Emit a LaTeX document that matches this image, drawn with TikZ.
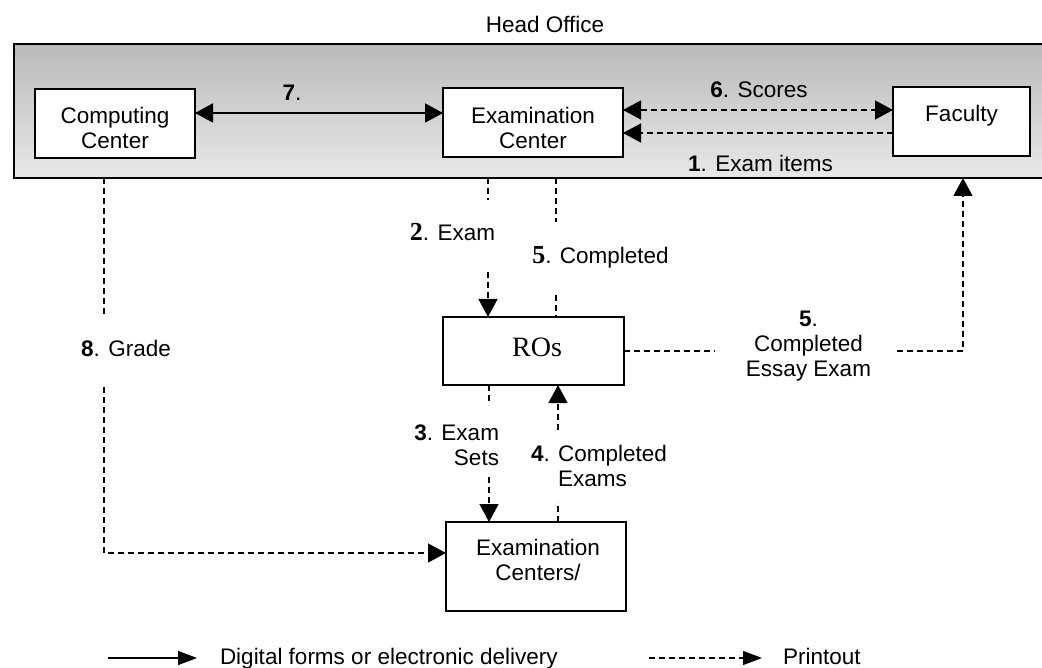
\documentclass[tikz,border=0pt]{standalone}
\usepackage{fontspec}
\setmainfont{Liberation Sans}
\newfontfamily\serifnum{Liberation Serif}
\usetikzlibrary{arrows.meta}

% bold serif step numbers
\newcommand{\snum}[1]{{\fontsize{26}{25}\selectfont\serifnum\bfseries #1}}

\begin{document}
\begin{tikzpicture}[x=1pt,y=-1pt,
  every node/.style={font=\fontsize{22.5}{25}\selectfont, inner sep=0pt, outer sep=0pt},
  box/.style={draw, line width=1.4pt, fill=white, rectangle},
  txt/.style={align=center},
  tip/.style={-{Triangle[length=18pt,width=19pt]}},
  both/.style={{Triangle[length=18pt,width=19pt]}-{Triangle[length=18pt,width=19pt]}},
  dline/.style={line width=1.3pt, dash pattern=on 6pt off 4pt},
  sline/.style={line width=2pt},
]
\clip (0,0) rectangle (1042,668);
\fill[white] (0,0) rectangle (1042,668);

% head office band
\node (hotitle) at (545,24.5) {Head Office};
\node[draw, line width=1.3pt, minimum width=1040pt, minimum height=134pt,
      top color=black!27, bottom color=black!9] (ho) at (534,111) {};

% boxes
\node[box, minimum width=160pt, minimum height=69pt] (cc)  at (115,123.5) {};
\node[box, minimum width=180pt, minimum height=69pt] (ec)  at (533,122.5) {};
\node[box, minimum width=137pt, minimum height=69pt] (fac) at (961.5,121.5) {};
\node[box, minimum width=181pt, minimum height=68pt] (ros) at (533.5,351) {};
\node[box, minimum width=180pt, minimum height=89pt] (xc)  at (536,566.5) {};

\node[txt] (cct)  at (115,128)   {Computing\\Center};
\node[txt] (ect)  at (533,127.5) {Examination\\Center};
\node      (fact) at (961.5,116) {Faculty};
\node      (rost) at (537,347.5) {\fontsize{28}{30}\selectfont\serifnum ROs};
\node[txt] (xct)  at (538,560)   {Examination\\Centers/};

% labels
\node (l7) at (292,92.7)  {\textbf{7}.};
\node (l6) at (759,90)    {\textbf{6}. Scores};
\node (l1) at (760.5,163.7) {\textbf{1}. Exam items};
\node (l2) at (452.5,232.5) {\snum{2}. Exam};
\node (l5a) at (600.5,257.5) {\snum{5}. Completed};
\node[txt] (l5b) at (808.5,346.5) {\textbf{5}.\\Completed\\Essay Exam};
\node (l8) at (126,348.7) {\textbf{8}. Grade};
\node[align=right] (l3) at (456.7,445) {\textbf{3}. Exam\\Sets};
\node[align=left] (l4) at (599,466.3) {\textbf{4}. Completed\\\phantom{\textbf{4}. }Exams};

% head office links
\coordinate (y7) at (0,113);
\coordinate (y6) at (0,110);
\coordinate (y1) at (0,133);
\draw[sline,both] (cc.east |- y7) -- (ec.west |- y7);
\draw[dline,both] (ec.east |- y6) -- (fac.west |- y6);
\draw[dline,tip]  (fac.west |- y1) -- (ec.east |- y1);

% 2. Exam
\coordinate (a1) at (488,200);
\coordinate (a2) at (488,272);
\draw[dline] (ho.south -| a1) -- (a1);
\draw[dline,tip] (a2) -- (ros.north -| a2);

% 5. Completed
\coordinate (b1) at (556,222);
\coordinate (b2) at (556,295);
\draw[dline] (ho.south -| b1) -- (b1);
\draw[dline] (b2) -- (ros.north -| b2);

% 5. Completed essay exam
\coordinate (c1) at (715,351);
\coordinate (c2) at (897,351);
\coordinate (c3) at (963,351);
\draw[dline] (ros.east) -- (c1);
\draw[dline,tip] (c2) -- (c3) -- (ho.south -| c3);

% 8. Grade
\coordinate (d1) at (104,317);
\coordinate (d2) at (104,387);
\coordinate (d3) at (104,553);
\draw[dline] (ho.south -| d1) -- (d1);
\draw[dline,tip] (d2) -- (d3) -- (xc.west |- d3);

% 3. Exam sets
\coordinate (e1) at (489,405);
\coordinate (e2) at (489,477);
\draw[dline] (ros.south -| e1) -- (e1);
\draw[dline,tip] (e2) -- (xc.north -| e2);

% 4. Completed exams
\coordinate (f1) at (558,502);
\coordinate (f2) at (558,430);
\draw[dline] (xc.north -| f1) -- (f1);
\draw[dline,tip] (f2) -- (ros.south -| f2);

% legend
\coordinate (g1) at (108,658);
\coordinate (g2) at (197,658);
\coordinate (h1) at (649,658);
\coordinate (h2) at (762,658);
\draw[line width=1.2pt,-{Triangle[length=19pt,width=14pt]}] (g1) -- (g2);
\draw[dline,line width=1.1pt,-{Triangle[length=19pt,width=14pt]}] (h1) -- (h2);
\node[anchor=base west] (lg1) at (220,664) {Digital forms or electronic delivery};
\node[anchor=base west] (lg2) at (783,664) {Printout};
\end{tikzpicture}
\end{document}
